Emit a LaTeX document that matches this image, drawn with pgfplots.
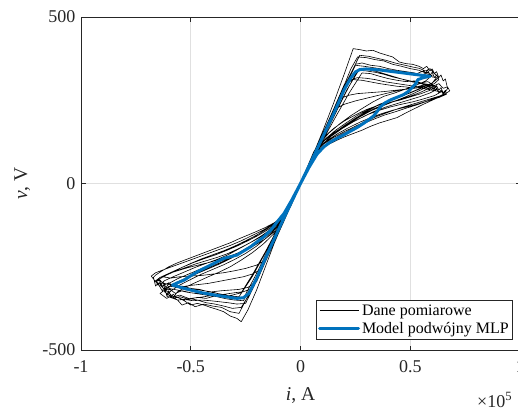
\documentclass[border=0pt]{standalone}
\usepackage{fontspec}
\setmainfont{Liberation Serif}
\usepackage{pgfplots}
\pgfplotsset{compat=1.18}
\usepackage{pgfplotstable}

\definecolor{mlpblue}{rgb}{0,0.447,0.741}
\definecolor{gridgray}{gray}{0.88}
\definecolor{axgray}{gray}{0.15}

% measured cycles: every cycle starts and ends at the origin (i in 1e5 A, v in V)
\pgfplotstableread{
x y
0 0
0.05 75
0.10 155
0.15 240
0.20 330
0.24 405
0.27 402
0.30 398
0.33 400
0.36 392
0.39 386
0.42 380
0.45 365
0.48 360
0.51 358
0.54 352
0.56 345
0.575 352
0.59 338
0.60 344
0.61 330
0.62 336
0.63 318
0.64 326
0.65 308
0.66 314
0.67 285
0.655 272
0.64 262
0.60 250
0.56 238
0.52 225
0.48 212
0.44 198
0.40 190
0.36 182
0.32 172
0.28 160
0.24 150
0.20 140
0.16 128
0.12 115
0.08 98
0.04 55
0 0
-0.04 -60
-0.08 -118
-0.12 -180
-0.16 -250
-0.20 -320
-0.24 -380
-0.27 -415
-0.29 -405
-0.32 -398
-0.35 -385
-0.38 -378
-0.41 -372
-0.44 -365
-0.47 -360
-0.50 -365
-0.53 -352
-0.55 -345
-0.57 -340
-0.58 -332
-0.59 -342
-0.60 -322
-0.61 -335
-0.62 -312
-0.63 -322
-0.65 -300
-0.66 -308
-0.67 -282
-0.66 -275
-0.63 -262
-0.60 -250
-0.56 -238
-0.52 -228
-0.48 -218
-0.44 -208
-0.40 -198
-0.36 -188
-0.32 -178
-0.28 -166
-0.24 -155
-0.20 -144
-0.16 -132
-0.12 -118
-0.08 -100
-0.04 -58
0 0
0.06 85
0.12 175
0.18 265
0.23 345
0.26 380
0.30 378
0.34 372
0.38 368
0.42 358
0.46 352
0.50 345
0.54 340
0.57 332
0.58 340
0.59 326
0.60 334
0.61 318
0.62 326
0.63 312
0.61 300
0.57 288
0.52 272
0.47 258
0.42 245
0.37 232
0.32 218
0.27 200
0.22 180
0.17 160
0.12 138
0.08 110
0.04 58
0 0
-0.05 -72
-0.10 -145
-0.15 -220
-0.20 -290
-0.24 -340
-0.27 -372
-0.31 -375
-0.35 -368
-0.39 -362
-0.43 -358
-0.47 -350
-0.51 -345
-0.55 -335
-0.58 -340
-0.60 -328
-0.62 -318
-0.64 -305
-0.62 -292
-0.58 -280
-0.53 -266
-0.48 -252
-0.43 -240
-0.38 -228
-0.33 -214
-0.28 -196
-0.23 -178
-0.18 -158
-0.13 -135
-0.08 -105
-0.04 -55
0 0
0.05 70
0.10 142
0.15 215
0.20 290
0.25 358
0.28 362
0.32 355
0.36 352
0.40 345
0.44 340
0.48 336
0.52 332
0.55 325
0.58 334
0.60 320
0.62 318
0.60 302
0.56 290
0.51 276
0.46 262
0.41 250
0.36 238
0.31 222
0.26 205
0.21 183
0.16 160
0.11 132
0.07 100
0.035 50
0 0
-0.05 -70
-0.10 -140
-0.15 -212
-0.20 -282
-0.26 -352
-0.30 -350
-0.34 -346
-0.38 -340
-0.42 -336
-0.46 -332
-0.50 -328
-0.54 -322
-0.57 -330
-0.595 -318
-0.62 -320
-0.60 -300
-0.56 -286
-0.51 -272
-0.46 -258
-0.41 -244
-0.36 -232
-0.31 -218
-0.26 -200
-0.21 -180
-0.16 -158
-0.11 -130
-0.07 -98
-0.035 -50
0 0
0.05 68
0.10 135
0.15 200
0.21 280
0.27 345
0.31 342
0.35 336
0.39 328
0.43 320
0.47 312
0.51 305
0.55 300
0.59 292
0.60 300
0.61 286
0.62 294
0.63 280
0.64 288
0.65 272
0.66 280
0.665 268
0.63 258
0.58 248
0.53 236
0.48 226
0.43 215
0.38 205
0.33 192
0.28 178
0.23 162
0.18 145
0.13 125
0.08 98
0.04 52
0 0
-0.05 -66
-0.10 -132
-0.15 -196
-0.22 -280
-0.28 -340
-0.32 -338
-0.36 -334
-0.40 -326
-0.44 -322
-0.48 -318
-0.52 -320
-0.56 -312
-0.60 -308
-0.61 -318
-0.62 -302
-0.63 -312
-0.64 -296
-0.65 -305
-0.66 -292
-0.64 -282
-0.60 -270
-0.55 -255
-0.50 -240
-0.45 -226
-0.40 -214
-0.35 -202
-0.30 -188
-0.25 -172
-0.20 -155
-0.15 -135
-0.10 -112
-0.06 -80
-0.03 -40
0 0
0.05 65
0.10 128
0.16 200
0.22 270
0.28 332
0.32 330
0.36 322
0.40 315
0.44 310
0.48 306
0.52 308
0.55 302
0.58 306
0.60 298
0.58 284
0.54 272
0.49 260
0.44 250
0.39 240
0.34 226
0.29 210
0.24 190
0.19 168
0.14 142
0.09 112
0.045 62
0 0
-0.05 -65
-0.10 -130
-0.16 -205
-0.22 -275
-0.27 -328
-0.31 -335
-0.35 -340
-0.39 -338
-0.43 -345
-0.47 -342
-0.51 -348
-0.55 -340
-0.58 -345
-0.61 -338
-0.59 -322
-0.55 -305
-0.50 -288
-0.45 -272
-0.40 -258
-0.35 -244
-0.30 -228
-0.25 -210
-0.20 -188
-0.15 -160
-0.10 -128
-0.05 -70
0 0
0.05 72
0.10 148
0.15 222
0.20 298
0.24 312
0.28 310
0.32 305
0.36 300
0.40 296
0.44 292
0.48 290
0.52 286
0.56 290
0.59 284
0.60 292
0.61 278
0.62 286
0.63 272
0.64 280
0.65 268
0.62 258
0.57 246
0.52 236
0.47 228
0.42 220
0.37 210
0.32 198
0.27 184
0.22 168
0.17 150
0.12 128
0.08 102
0.04 55
0 0
-0.05 -70
-0.10 -145
-0.15 -220
-0.20 -295
-0.24 -312
-0.28 -318
-0.32 -320
-0.36 -322
-0.40 -325
-0.44 -328
-0.48 -330
-0.52 -326
-0.56 -320
-0.60 -315
-0.63 -305
-0.66 -295
-0.63 -282
-0.59 -268
-0.54 -252
-0.49 -238
-0.44 -226
-0.39 -215
-0.34 -202
-0.29 -188
-0.24 -172
-0.19 -155
-0.14 -135
-0.09 -108
-0.045 -60
0 0
0.05 70
0.10 140
0.14 200
0.18 255
0.22 265
0.26 270
0.30 272
0.34 274
0.38 276
0.42 279
0.46 282
0.50 284
0.54 288
0.57 284
0.60 280
0.64 275
0.61 264
0.56 254
0.51 245
0.46 238
0.41 230
0.36 220
0.31 208
0.26 192
0.21 175
0.16 155
0.11 130
0.07 98
0.035 50
0 0
-0.05 -68
-0.10 -138
-0.14 -198
-0.18 -258
-0.22 -272
-0.26 -280
-0.30 -285
-0.34 -290
-0.38 -295
-0.42 -300
-0.46 -303
-0.50 -306
-0.54 -310
-0.58 -306
-0.62 -300
-0.65 -290
-0.62 -278
-0.58 -266
-0.53 -254
-0.48 -242
-0.43 -232
-0.38 -222
-0.33 -210
-0.28 -195
-0.23 -178
-0.18 -160
-0.13 -138
-0.08 -105
-0.04 -55
0 0
0.04 58
0.08 118
0.12 172
0.16 225
0.20 238
0.25 248
0.30 256
0.35 264
0.40 272
0.45 280
0.50 286
0.54 292
0.57 298
0.60 294
0.62 290
0.59 280
0.55 270
0.50 260
0.45 250
0.40 242
0.35 234
0.30 222
0.25 206
0.20 188
0.15 165
0.10 135
0.06 95
0.03 48
0 0
-0.04 -60
-0.08 -120
-0.12 -178
-0.16 -230
-0.20 -245
-0.25 -255
-0.30 -262
-0.35 -268
-0.40 -272
-0.45 -276
-0.50 -278
-0.55 -280
-0.59 -284
-0.63 -280
-0.60 -270
-0.56 -262
-0.51 -252
-0.46 -244
-0.41 -236
-0.36 -226
-0.31 -215
-0.26 -202
-0.21 -186
-0.16 -166
-0.11 -140
-0.07 -105
-0.035 -52
0 0
0.05 70
0.10 140
0.15 212
0.20 285
0.25 355
0.29 352
0.33 348
0.37 344
0.41 340
0.45 336
0.49 334
0.53 330
0.56 338
0.58 328
0.60 325
0.57 308
0.53 296
0.48 284
0.43 272
0.38 262
0.33 245
0.28 225
0.23 204
0.18 180
0.13 152
0.09 122
0.05 75
0 0
-0.05 -72
-0.10 -145
-0.15 -218
-0.20 -292
-0.25 -360
-0.29 -362
-0.33 -358
-0.37 -355
-0.41 -352
-0.45 -350
-0.49 -352
-0.53 -348
-0.56 -350
-0.58 -342
-0.56 -325
-0.52 -310
-0.47 -295
-0.42 -280
-0.37 -266
-0.32 -250
-0.27 -230
-0.22 -208
-0.17 -182
-0.12 -150
-0.08 -115
-0.04 -62
0 0
0.05 66
0.10 132
0.15 198
0.20 265
0.26 340
0.30 338
0.34 334
0.38 328
0.42 320
0.46 314
0.50 308
0.54 302
0.58 298
0.61 294
0.63 300
0.65 286
0.67 290
0.68 278
0.65 266
0.60 256
0.55 246
0.50 236
0.45 226
0.40 214
0.35 202
0.30 188
0.25 172
0.20 156
0.15 138
0.10 116
0.06 85
0.03 42
0 0
-0.05 -68
-0.10 -135
-0.15 -202
-0.20 -270
-0.26 -345
-0.30 -342
-0.34 -335
-0.38 -330
-0.42 -325
-0.46 -318
-0.50 -315
-0.54 -308
-0.57 -312
-0.60 -298
-0.62 -305
-0.64 -290
-0.66 -295
-0.68 -278
-0.66 -268
-0.62 -258
-0.57 -246
-0.52 -234
-0.47 -222
-0.42 -210
-0.37 -198
-0.32 -186
-0.27 -172
-0.22 -156
-0.17 -140
-0.12 -120
-0.08 -98
-0.04 -52
0 0
0.05 70
0.10 142
0.16 228
0.22 310
0.26 318
0.30 316
0.34 312
0.38 306
0.42 302
0.46 298
0.50 294
0.54 290
0.57 294
0.60 286
0.62 282
0.59 272
0.54 260
0.49 250
0.44 240
0.39 230
0.34 218
0.29 202
0.24 185
0.19 165
0.14 142
0.09 112
0.045 60
0 0
-0.05 -70
-0.10 -142
-0.16 -230
-0.22 -315
-0.26 -325
-0.30 -328
-0.34 -332
-0.38 -335
-0.42 -338
-0.46 -342
-0.50 -345
-0.53 -350
-0.56 -342
-0.59 -338
-0.61 -345
-0.64 -330
-0.61 -316
-0.57 -300
-0.52 -285
-0.47 -270
-0.42 -256
-0.37 -242
-0.32 -226
-0.27 -208
-0.22 -188
-0.17 -165
-0.12 -138
-0.08 -105
-0.04 -55
0 0
0.05 72
0.10 145
0.15 218
0.21 305
0.27 385
0.31 382
0.35 376
0.39 370
0.43 362
0.47 356
0.51 350
0.54 346
0.57 338
0.59 345
0.61 330
0.63 318
0.60 302
0.55 286
0.50 272
0.45 260
0.40 248
0.35 234
0.30 216
0.25 196
0.20 174
0.15 150
0.10 124
0.06 90
0.03 45
0 0
-0.05 -70
-0.10 -142
-0.15 -215
-0.21 -300
-0.28 -390
-0.32 -385
-0.36 -372
-0.40 -368
-0.44 -362
-0.48 -370
-0.51 -358
-0.54 -365
-0.56 -350
-0.58 -345
-0.60 -335
-0.62 -325
-0.60 -310
-0.56 -296
-0.51 -280
-0.46 -265
-0.41 -250
-0.36 -236
-0.31 -220
-0.26 -202
-0.21 -182
-0.16 -160
-0.11 -132
-0.07 -100
-0.035 -52
0 0
}\measured

% double-MLP model response over one cycle
\pgfplotstableread{
x y
0 0
0.05 68
0.10 138
0.15 208
0.20 283
0.23 318
0.25 335
0.27 342
0.30 344
0.36 341
0.42 336
0.48 331
0.54 326
0.59 322
0.56 318
0.535 312
0.525 300
0.51 289
0.49 276
0.47 267
0.44 259
0.41 251
0.385 242
0.365 231
0.35 217
0.333 203
0.31 191
0.288 181
0.26 169
0.227 157
0.2 147
0.167 136
0.135 124
0.106 110
0.075 88
0.04 50
0 0
-0.05 -68
-0.10 -138
-0.15 -210
-0.20 -285
-0.235 -330
-0.26 -343
-0.29 -345
-0.33 -341
-0.39 -335
-0.45 -328
-0.50 -320
-0.545 -312
-0.583 -305
-0.56 -298
-0.53 -290
-0.50 -277
-0.47 -265
-0.44 -255
-0.41 -245
-0.38 -235
-0.35 -225
-0.32 -220
-0.29 -215
-0.26 -203
-0.227 -190
-0.2 -176
-0.167 -160
-0.135 -140
-0.106 -115
-0.075 -90
-0.04 -50
0 0
}\model

\begin{document}
\begin{tikzpicture}
\begin{axis}[
  at={(81pt,60pt)}, anchor=south west,
  width=439pt, height=333pt, scale only axis,
  xmin=-1, xmax=1, ymin=-500, ymax=500,
  xtick={-1,-0.5,0,0.5,1}, xticklabels={-1,-0.5,0,0.5,1},
  ytick={-500,0,500}, yticklabels={-500,0,500},
  tick align=inside,
  major tick length=4.5pt,
  xmajorgrids, ymajorgrids,
  major grid style={draw=gridgray, line width=0.6pt},
  axis line style={draw=axgray, line width=0.7pt},
  every tick/.style={draw=axgray, line width=0.6pt},
  ticklabel style={font=\fontsize{18}{20}\selectfont, text=axgray},
  xticklabel style={yshift=-7pt},
  yticklabel style={xshift=-2pt},
  xlabel={\textit{i}, A}, ylabel={\textit{v}, V},
  label style={font=\fontsize{19.5}{22}\selectfont, text=axgray},
  xlabel style={at={(axis description cs:0.5,-0.138)}, anchor=center},
  ylabel style={at={(axis description cs:-0.134,0.5)}, anchor=center},
  legend style={at={(axis description cs:0.984,0.03)}, anchor=south east,
    font=\fontsize{16}{18}\selectfont, draw=axgray, line width=0.6pt,
    fill=white, inner xsep=2pt, inner ysep=2.5pt, row sep=2pt},
  legend cell align=left,
  legend image code/.code={\draw[#1] (0pt,0pt) -- (39pt,0pt);},
]
\addplot[black, line width=0.6pt, line join=round] table[x=x, y=y] {\measured};
\addlegendentry{Dane pomiarowe}
\addplot[mlpblue, line width=3pt, line join=round, line cap=round] table[x=x, y=y] {\model};
\addlegendentry{Model podwójny MLP}
\end{axis}
\node[anchor=base west, font=\fontsize{18}{20}\selectfont, text=axgray, inner sep=0pt]
  at (477pt,3pt) {×10\textsuperscript{5}};
\pgfresetboundingbox
\path[use as bounding box] (0,0) rectangle (518pt,410pt);
\end{tikzpicture}
\end{document}
